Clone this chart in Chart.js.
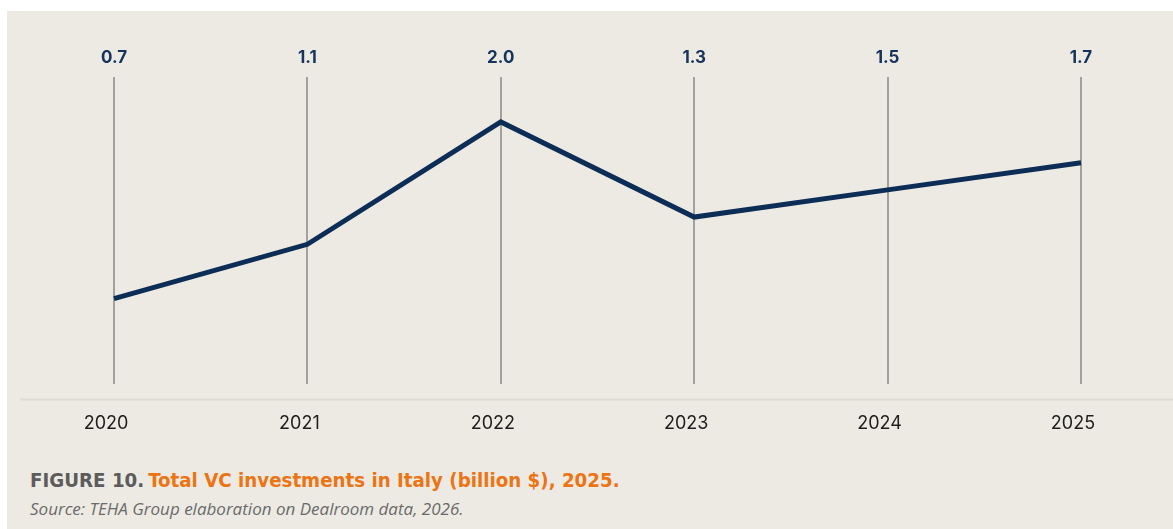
<!DOCTYPE html>
<html>
<head>
<meta charset="utf-8">
<script src="https://cdn.jsdelivr.net/npm/chart.js@4/dist/chart.umd.min.js"></script>
<style>
  html, body { margin: 0; padding: 0; background: #ffffff; }
  #panel {
    position: absolute; left: 7px; top: 11px;
    width: 1166px; height: 518px;
    background: #edeae4;
  }
  #chartWrap { position: absolute; left: 0; top: 0; width: 1166px; height: 451px; }
  #caption { position: absolute; left: 23px; top: 457px; }
  #caption .fig {
    font-family: "Liberation Sans Narrow", "DejaVu Sans Condensed", sans-serif;
    font-weight: bold; font-size: 20.3px; color: #5c5c5c;
  }
  #caption .ttl {
    font-family: "Liberation Sans Narrow", "DejaVu Sans Condensed", sans-serif;
    font-weight: bold; font-size: 20.3px; color: #ec7412;
  }
  #source {
    position: absolute; left: 23px; top: 486px;
    font-family: "Open Sans", sans-serif; font-style: italic;
    font-size: 17px; color: #6a6a6a;
  }
</style>
</head>
<body>
<div id="panel">
  <div id="chartWrap"><canvas id="vcChart"></canvas></div>
  <div id="caption"><span class="fig">FIGURE 10.</span> <span class="ttl">Total VC investments in Italy (billion $), 2025.</span></div>
  <div id="source">Source: TEHA Group elaboration on Dealroom data, 2026.</div>
</div>

<script>
// yearly totals, billion $
const years = ['2020', '2021', '2022', '2023', '2024', '2025'];
const investments = [0.7, 1.1, 2.0, 1.3, 1.5, 1.7];

const navy = '#0c2d56';

// value printed above each vertical guide
const topValues = {
  id: 'topValues',
  afterDatasetsDraw(chart) {
    const { ctx, chartArea } = chart;
    const meta = chart.getDatasetMeta(0);
    ctx.save();
    ctx.font = '700 17px Inter, sans-serif';
    ctx.fillStyle = '#15335d';
    ctx.textAlign = 'center';
    ctx.textBaseline = 'middle';
    meta.data.forEach((pt, i) => {
      ctx.fillText(investments[i].toFixed(1), pt.x, chartArea.top - 19);
    });
    ctx.restore();
  }
};

// thin rule between the plot and the year labels
const baseRule = {
  id: 'baseRule',
  beforeDraw(chart) {
    const { ctx, chartArea, width } = chart;
    ctx.save();
    ctx.strokeStyle = '#dfdcd6';
    ctx.lineWidth = 2;
    ctx.beginPath();
    ctx.moveTo(13, chartArea.bottom + 15);
    ctx.lineTo(width, chartArea.bottom + 15);
    ctx.stroke();
    ctx.restore();
  }
};

new Chart(document.getElementById('vcChart').getContext('2d'), {
  type: 'line',
  data: {
    labels: years,
    datasets: [{
      label: 'Total VC investments',
      data: investments,
      borderColor: navy,
      borderWidth: 5,
      pointRadius: 0,
      tension: 0,
      borderJoinStyle: 'miter',
      fill: false
    }]
  },
  options: {
    responsive: true,
    maintainAspectRatio: false,
    animation: false,
    layout: { padding: { left: 107, right: 92, top: 66, bottom: 0 } },
    plugins: {
      legend: { display: false },
      tooltip: { enabled: false }
    },
    scales: {
      x: {
        offset: false,
        border: { display: false },
        grid: { color: '#a3a19d', lineWidth: 2, drawTicks: false },
        ticks: {
          padding: 28,
          labelOffset: -8,
          color: '#1e1e1e',
          font: { family: 'Inter', size: 18 }
        }
      },
      y: {
        display: false,
        min: 0.07,
        max: 2.33
      }
    }
  },
  plugins: [baseRule, topValues]
});
</script>
</body>
</html>
